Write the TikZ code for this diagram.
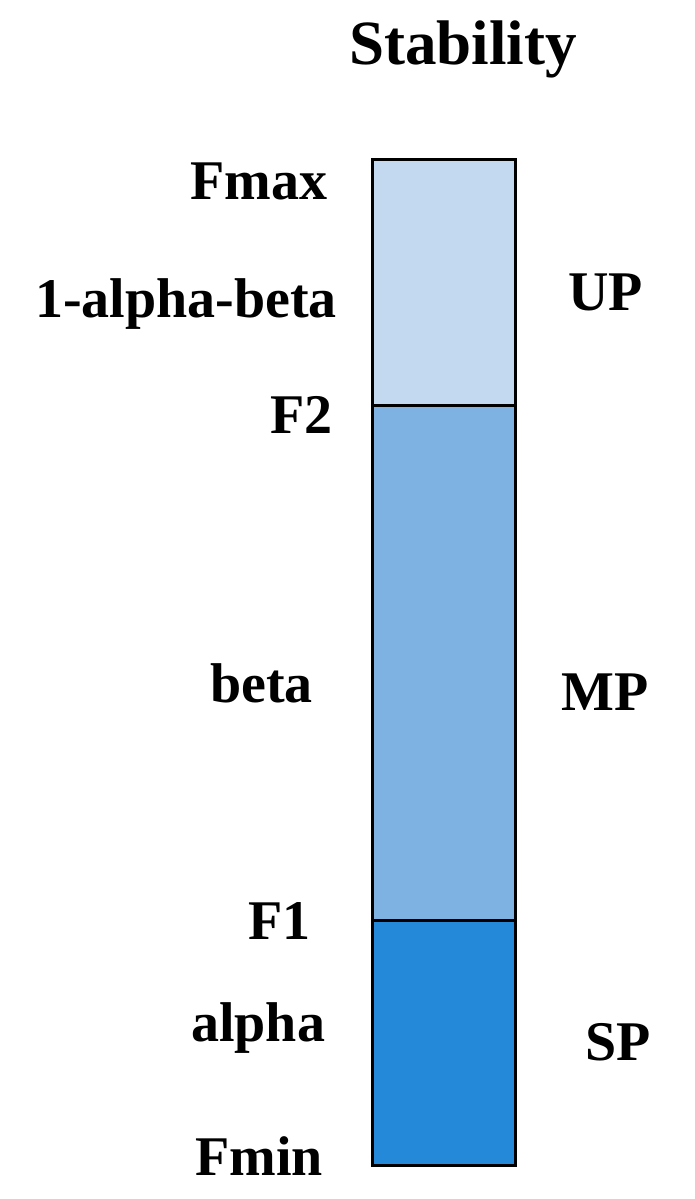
\documentclass[tikz,border=0pt]{standalone}
\usepackage{fontspec}
\setmainfont{Liberation Serif}
\definecolor{upc}{HTML}{C2D9EF}
\definecolor{mpc}{HTML}{7EB2E3}
\definecolor{spc}{HTML}{2489D8}
\begin{document}
\begin{tikzpicture}[x=1pt,y=-1pt,
  lbl/.style={inner sep=0pt,anchor=base west,font=\bfseries\fontsize{56}{60}\selectfont},
  band/.style={draw=black,line width=3pt}]
\useasboundingbox (0,0) rectangle (694,1199);
% bands
\path[band,fill=upc] (372.5,159.5) rectangle (515.5,405.7);
\path[band,fill=mpc] (372.5,405.7) rectangle (515.5,920);
\path[band,fill=spc] (372.5,920) rectangle (515.5,1165.5);
\coordinate (top) at (372.5,159.5);
% title
\node[inner sep=0pt,anchor=base west,font=\bfseries\fontsize{63}{66}\selectfont] (title) at (349,65) {Stability};
% left labels
\node[lbl] (fmax) at (190,199) {Fmax};
\node[lbl] (oab) at (35,317) {1-alpha-beta};
\node[lbl] (f2) at (270,433) {F2};
\node[lbl] (beta) at (210,702) {beta};
\node[lbl] (f1) at (248,939) {F1};
\node[lbl] (alpha) at (191,1041) {alpha};
\node[lbl] (fmin) at (195,1175) {Fmin};
% right labels
\node[lbl] (up) at (568,310) {UP};
\node[lbl] (mp) at (561,710) {MP};
\node[lbl] (sp) at (585,1060) {SP};
\end{tikzpicture}
\end{document}
